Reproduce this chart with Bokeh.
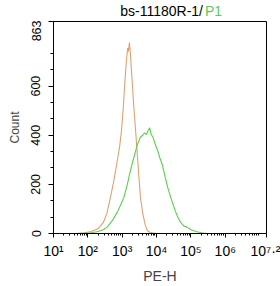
import math
from bokeh.plotting import figure
from bokeh.layouts import column
from bokeh.models import FixedTicker
from bokeh.core.properties import value
from bokeh.embed import file_html
from bokeh.resources import INLINE

# ---- data (x in log10(PE-H)) ----
iso_log = [1.5, 1.7, 1.9, 2.1, 2.3, 2.45, 2.55, 2.66, 2.75, 2.85, 2.93, 2.98, 3.03, 3.08,
           3.12, 3.16, 3.18, 3.21, 3.24, 3.27, 3.29, 3.33, 3.39, 3.45, 3.53, 3.6, 3.67,
           3.73, 3.8, 3.9, 4.0]
iso_cnt = [0, 1, 3, 8, 20, 45, 80, 148, 210, 290, 360, 419, 510, 623,
           700, 755, 740, 777, 730, 660, 623, 530, 419, 300, 148, 80, 35,
           12, 5, 2, 0]

p1_log = [1.8, 2.1, 2.3, 2.45, 2.56, 2.7, 2.85, 2.95, 3.05, 3.15, 3.22, 3.29, 3.38, 3.45,
          3.53, 3.6, 3.65, 3.7, 3.76, 3.8, 3.84, 3.9, 3.97, 4.05, 4.1, 4.16, 4.25, 4.33,
          4.41, 4.5, 4.55, 4.62, 4.7, 4.8, 4.89, 5.0, 5.15, 5.3, 5.47]
p1_cnt = [0, 3, 8, 15, 26, 50, 85, 115, 148, 200, 245, 284, 330, 365,
          392, 400, 410, 402, 420, 430, 405, 390, 360, 330, 305, 284, 230, 185,
          148, 110, 90, 66, 45, 30, 26, 15, 8, 3, 0]

x_decades = [1, 2, 3, 4, 5, 6, 7.2]
x_tick_labels = ["10\u00b9", "10\u00b2", "10\u00b3", "10\u2074", "10\u2075", "10\u2076",
                 "10\u2077\u00b7\u00b2"]
y_ticks = [0, 200, 400, 600, 863]
title_main = "bs-11180R-1/"
title_gate = "P1"
x_title = "PE-H"
y_title = "Count"

XMIN, XMAX, YMIN, YMAX = 1, 7.2, 0, 863
W = 280
TITLE_H = 20
MAIN_H = 266
L, R, T, B = 53, 14, 1, 53

FONT = "Liberation Sans"

# ---- title strip (two coloured parts), no axes so the frame is the whole strip ----
t = figure(width=W, height=TITLE_H, x_range=(0, W), y_range=(0, TITLE_H), title=None,
           x_axis_location=None, y_axis_location=None,
           output_backend="svg", toolbar_location=None, margin=(0, 0, 0, 0),
           min_border_left=0, min_border_right=0, min_border_top=0, min_border_bottom=0)
t.grid.visible = False
t.outline_line_color = None
t.background_fill_color = "white"
t.border_fill_color = "white"
t.text(x=[196.5], y=[10], text=[title_main], text_align="right", text_baseline="alphabetic",
       text_font=value(FONT), text_font_size="14px", text_color="black")
t.text(x=[199], y=[10], text=[title_gate], text_align="left", text_baseline="alphabetic",
       text_font=value(FONT), text_font_size="14px", text_color="#5CC85C")

# ---- main histogram ----
p = figure(width=W, height=MAIN_H, x_range=(XMIN, XMAX), y_range=(YMIN, YMAX), title=None,
           output_backend="svg", toolbar_location=None, margin=(0, 0, 0, 0),
           min_border_left=L, min_border_right=R, min_border_top=T, min_border_bottom=B)
p.background_fill_color = "white"
p.border_fill_color = "white"
p.grid.visible = False
p.outline_line_color = "black"
p.outline_line_width = 1

p.line(iso_log, iso_cnt, line_color="#E3A06E", line_width=1.1)
p.line(p1_log, p1_cnt, line_color="#55D24A", line_width=1.1)

minor_x = []
for d in range(1, 8):
    for k in range(2, 10):
        v = d + math.log10(k)
        if v < XMAX:
            minor_x.append(v)
xa = p.xaxis[0]
xa.ticker = FixedTicker(ticks=x_decades, minor_ticks=minor_x)
xa.major_label_overrides = {d: s for d, s in zip(x_decades, x_tick_labels)}
xa.major_label_text_font = FONT
xa.major_label_text_font_size = "14px"
xa.major_label_text_color = "black"
xa.major_label_standoff = 5
xa.major_tick_out = 4
xa.major_tick_in = 0
xa.minor_tick_out = 2
xa.minor_tick_in = 0
xa.axis_label = x_title
xa.axis_label_text_font = FONT
xa.axis_label_text_font_style = "normal"
xa.axis_label_text_font_size = "14px"
xa.axis_label_standoff = 6
xa.axis_line_color = "black"

minor_y = [i * 200 / 3 for i in range(1, 13) if i % 3 != 0 and i * 200 / 3 < 863]
ya = p.yaxis[0]
ya.ticker = FixedTicker(ticks=y_ticks, minor_ticks=minor_y)
ya.major_label_orientation = "vertical"
ya.major_label_text_font = FONT
ya.major_label_text_font_size = "12.5px"
ya.major_label_text_color = "black"
ya.major_label_standoff = 8
ya.major_tick_out = 5
ya.major_tick_in = 0
ya.minor_tick_out = 3
ya.minor_tick_in = 0
ya.axis_label = y_title
ya.axis_label_text_font = FONT
ya.axis_label_text_font_style = "normal"
ya.axis_label_text_font_size = "12px"
ya.axis_label_standoff = 7
ya.axis_line_color = "black"

layout = column(t, p, spacing=0, margin=(0, 0, 0, 0))
open("out.html", "w").write(file_html(layout, INLINE))
